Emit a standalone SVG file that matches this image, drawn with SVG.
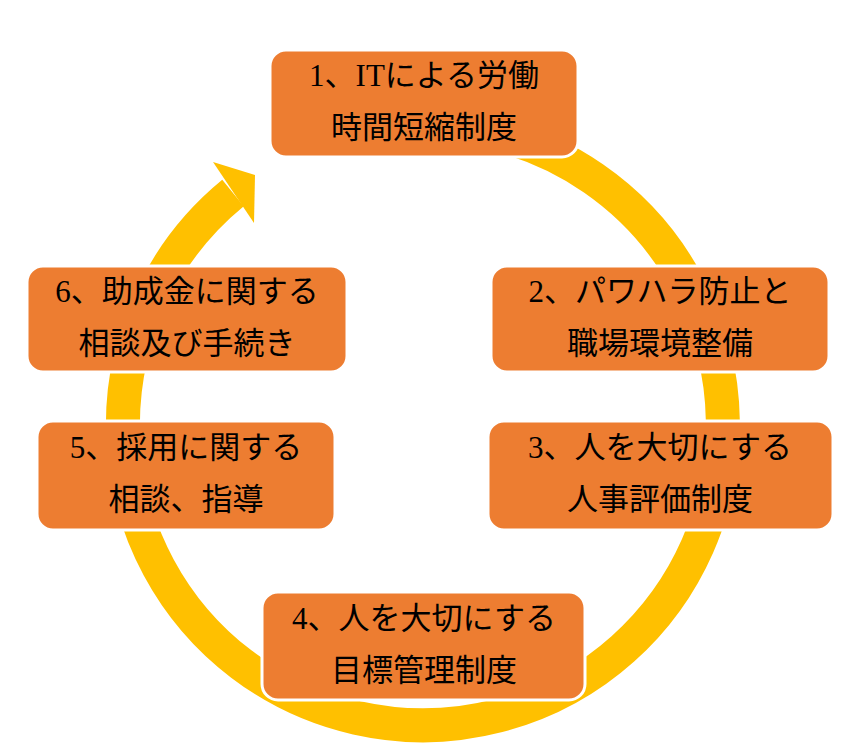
<svg xmlns="http://www.w3.org/2000/svg" width="842" height="748" viewBox="0 0 842 748">
<style>
.b{fill:#ED7D31;stroke:#fff;stroke-width:3}
.t{font-family:"Liberation Serif","Noto Sans CJK JP",serif;font-size:31px;fill:#000;text-anchor:middle}
</style>
<rect width="842" height="748" fill="#fff"/>
<g id="connectors">
<path d="M233,193 A300,300 0 1 0 476,130" fill="none" stroke="#FFC000" stroke-width="34"/>
<polygon points="255,175 213,162 254,223" fill="#FFC000"/>
</g>
<g id="n1"><rect class="b" x="270" y="50" width="308" height="107" rx="16"/><text class="t" x="424" y="86">1、ITによる労働</text><text class="t" x="424" y="138">時間短縮制度</text></g>
<g id="n2"><rect class="b" x="491" y="266" width="338" height="106" rx="16"/><text class="t" x="660" y="302">2、パワハラ防止と</text><text class="t" x="660" y="354">職場環境整備</text></g>
<g id="n3"><rect class="b" x="488" y="421" width="345" height="109" rx="16"/><text class="t" x="660" y="458">3、人を大切にする</text><text class="t" x="660" y="510">人事評価制度</text></g>
<g id="n4"><rect class="b" x="262" y="592" width="323" height="108" rx="16"/><text class="t" x="424" y="629">4、人を大切にする</text><text class="t" x="424" y="681">目標管理制度</text></g>
<g id="n5"><rect class="b" x="37" y="421" width="298" height="109" rx="16"/><text class="t" x="186" y="458">5、採用に関する</text><text class="t" x="186" y="510">相談、指導</text></g>
<g id="n6"><rect class="b" x="27" y="266" width="320" height="106" rx="16"/><text class="t" x="187" y="302">6、助成金に関する</text><text class="t" x="187" y="354">相談及び手続き</text></g>
</svg>
